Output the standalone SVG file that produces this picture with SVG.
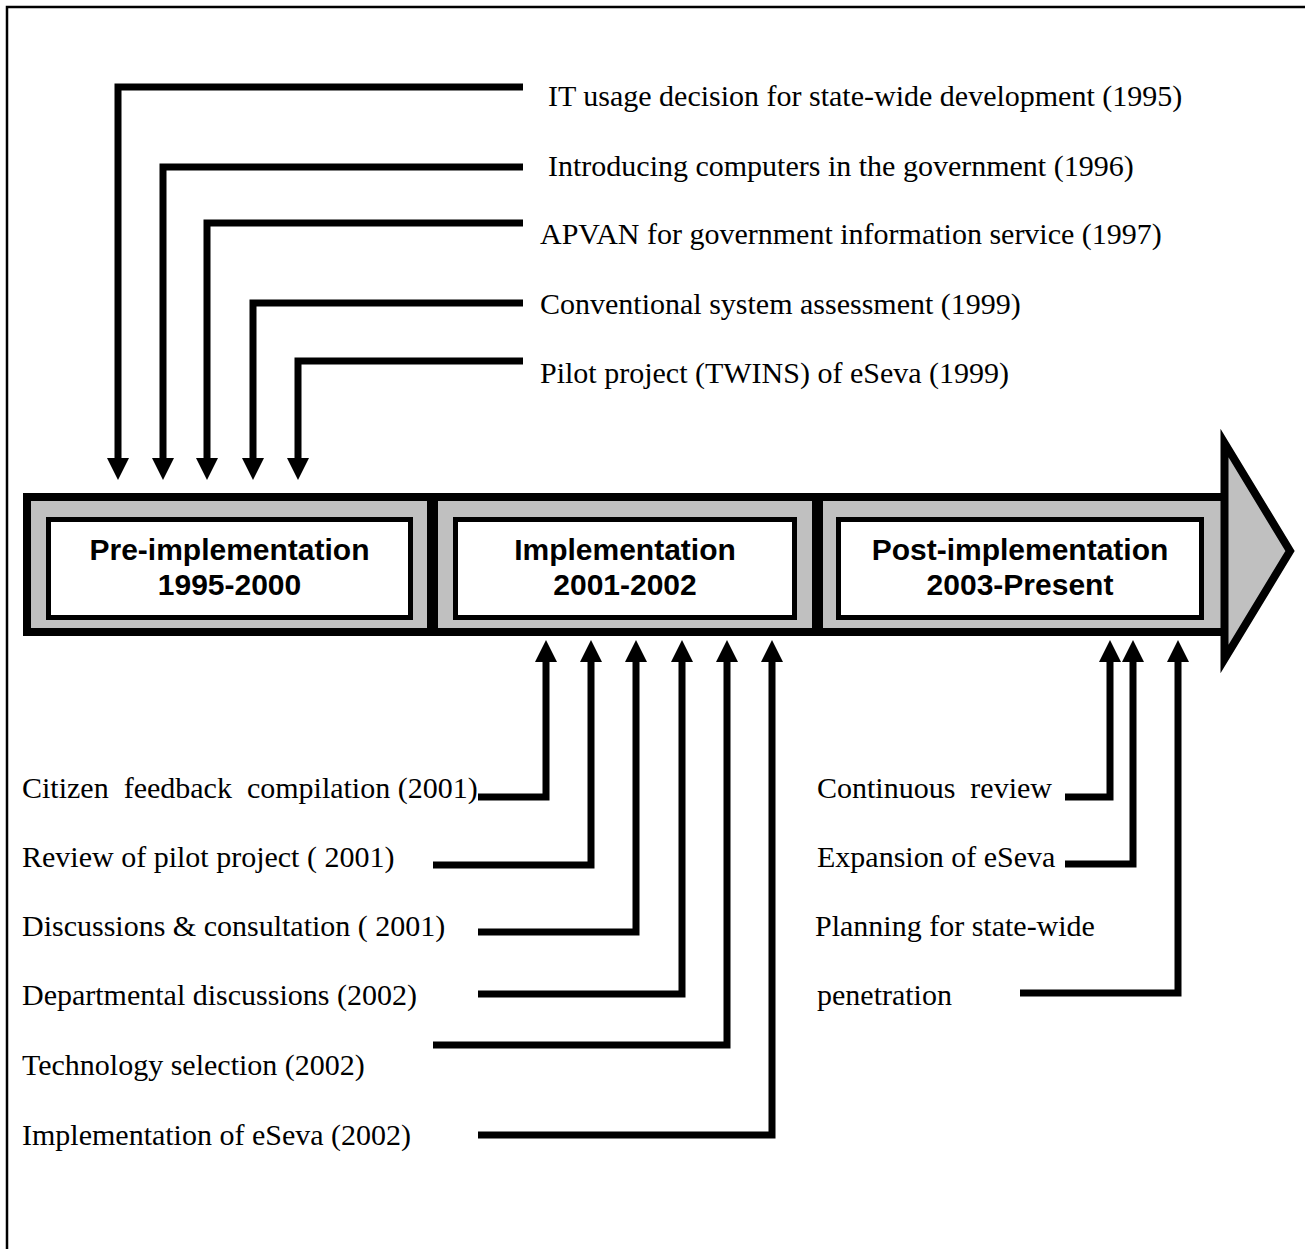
<svg xmlns="http://www.w3.org/2000/svg" width="1305" height="1249" viewBox="0 0 1305 1249">
<style>
.lbl{font-family:"Liberation Serif","Times New Roman",serif;font-size:30px;fill:#000}
.ph{font-family:"Liberation Sans",Arial,sans-serif;font-size:30px;font-weight:bold;fill:#000;text-anchor:middle}
.conn{fill:none;stroke:#000;stroke-width:7;stroke-linejoin:miter;marker-end:url(#ah)}
.box{fill:#fff;stroke:#000;stroke-width:5}
</style>
<defs>
<marker id="ah" markerUnits="userSpaceOnUse" viewBox="0 -11 22 22" markerWidth="22" markerHeight="22" refX="1" refY="0" orient="auto">
<path d="M0,-11 L22,0 L0,11 Z" fill="#000"/>
</marker>
</defs>
<rect width="1305" height="1249" fill="#fff"/>
<path d="M7,1249 V7 H1305" fill="none" stroke="#000" stroke-width="2.5"/>

<g id="timeline">
<rect x="27" y="497" width="1200" height="135" fill="#c0c0c0" stroke="#000" stroke-width="8"/>
<rect x="427" y="497" width="11" height="135" fill="#000"/>
<rect x="812" y="497" width="11" height="135" fill="#000"/>
<polygon points="1224.5,443 1290,551 1224.5,659" fill="#c0c0c0" stroke="#000" stroke-width="8"/>
</g>

<g id="pre">
<rect class="box" x="48.5" y="519.5" width="362" height="98"/>
<text class="ph" x="229.5" y="560">Pre-implementation</text>
<text class="ph" x="229.5" y="595">1995-2000</text>
</g>
<g id="impl">
<rect class="box" x="455.5" y="519.5" width="339" height="98"/>
<text class="ph" x="625" y="560">Implementation</text>
<text class="ph" x="625" y="595">2001-2002</text>
</g>
<g id="post">
<rect class="box" x="838.5" y="519.5" width="363" height="98"/>
<text class="ph" x="1020" y="560">Post-implementation</text>
<text class="ph" x="1020" y="595">2003-Present</text>
</g>

<g id="top-events">
<text class="lbl" x="548" y="106">IT usage decision for state-wide development (1995)</text>
<text class="lbl" x="548" y="176">Introducing computers in the government (1996)</text>
<text class="lbl" x="540" y="244">APVAN for government information service (1997)</text>
<text class="lbl" x="540" y="314">Conventional system assessment (1999)</text>
<text class="lbl" x="540" y="383">Pilot project (TWINS) of eSeva (1999)</text>
</g>

<g id="impl-events">
<text class="lbl" x="22" y="798" xml:space="preserve">Citizen  feedback  compilation (2001)</text>
<text class="lbl" x="22" y="867">Review of pilot project ( 2001)</text>
<text class="lbl" x="22" y="936">Discussions &amp; consultation ( 2001)</text>
<text class="lbl" x="22" y="1005">Departmental discussions (2002)</text>
<text class="lbl" x="22" y="1075">Technology selection (2002)</text>
<text class="lbl" x="22" y="1145">Implementation of eSeva (2002)</text>
</g>

<g id="post-events">
<text class="lbl" x="817" y="798" xml:space="preserve">Continuous  review</text>
<text class="lbl" x="817" y="867">Expansion of eSeva</text>
<text class="lbl" x="815" y="936">Planning for state-wide</text>
<text class="lbl" x="817" y="1005">penetration</text>
</g>

<g id="connectors">
<path class="conn" d="M523,87 H118 V459"/>
<path class="conn" d="M523,167 H163 V459"/>
<path class="conn" d="M523,223 H207 V459"/>
<path class="conn" d="M523,303 H253 V459"/>
<path class="conn" d="M523,361 H298 V459"/>
<path class="conn" d="M478,797 H546 V661"/>
<path class="conn" d="M433,865 H591 V661"/>
<path class="conn" d="M478,932 H636 V661"/>
<path class="conn" d="M478,994 H682 V661"/>
<path class="conn" d="M433,1045 H727 V661"/>
<path class="conn" d="M478,1135 H772 V661"/>
<path class="conn" d="M1065,797 H1110 V661"/>
<path class="conn" d="M1065,864 H1133 V661"/>
<path class="conn" d="M1020,993 H1178 V661"/>
</g>
</svg>
